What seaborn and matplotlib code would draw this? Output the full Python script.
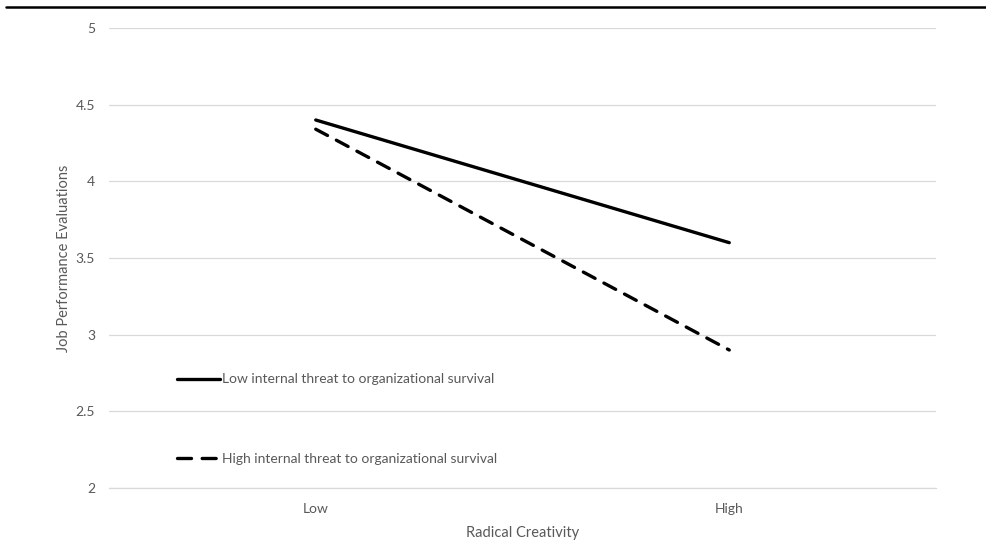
import matplotlib
matplotlib.use("Agg")
import matplotlib.pyplot as plt
import seaborn as sns
import pandas as pd
from matplotlib.lines import Line2D

categories = ["Low", "High"]
series_names = ["Low internal threat to organizational survival",
                "High internal threat to organizational survival"]
low_threat = [4.40, 3.60]
high_threat = [4.34, 2.90]
y_ticks = [2, 2.5, 3, 3.5, 4, 4.5, 5]
y_tick_labels = ["2", "2.5", "3", "3.5", "4", "4.5", "5"]

df = pd.DataFrame({
    "Radical Creativity": categories * 2,
    "value": low_threat + high_threat,
    "series": [series_names[0]] * 2 + [series_names[1]] * 2,
})

sns.set_style("white")
plt.rcParams["font.family"] = ["Lato", "DejaVu Sans"]
TXT = "#595959"

W, H = 986, 555
fig = plt.figure(figsize=(W / 100, H / 100), dpi=100)
ax = fig.add_axes([109 / W, 1 - 488 / H, (936 - 109) / W, (488 - 28) / H])

sns.lineplot(data=df, x="Radical Creativity", y="value", hue="series", style="series",
             palette=["black", "black"], dashes={series_names[0]: "", series_names[1]: (4, 3)},
             linewidth=2.4, sort=False, ax=ax, legend=False)
for ln in ax.get_lines():
    ln.set_dash_capstyle("round")
    ln.set_solid_capstyle("round")

ax.set_xlim(-0.5, 1.5)
ax.set_ylim(2, 5)
ax.set_yticks(y_ticks)
ax.set_yticklabels(y_tick_labels)
ax.yaxis.grid(True, color="#d9d9d9", linewidth=0.9)
ax.xaxis.grid(False)
for s in ["top", "right", "left"]:
    ax.spines[s].set_visible(False)
ax.spines["bottom"].set_color("#d9d9d9")
ax.spines["bottom"].set_linewidth(0.9)
ax.tick_params(axis="both", length=0, labelsize=10, labelcolor=TXT)
ax.tick_params(axis="y", pad=10)
ax.tick_params(axis="x", pad=11)
ax.set_xlabel("Radical Creativity", fontsize=10.5, color=TXT, labelpad=8)
ax.set_ylabel("Job Performance Evaluations", fontsize=10.5, color=TXT, labelpad=3)

handles = [Line2D([], [], color="black", lw=2.4, solid_capstyle="round"),
           Line2D([], [], color="black", lw=2.4, ls=(0, (4.2, 3.2)), dash_capstyle="round")]
leg = ax.legend(handles, series_names, loc="upper left", bbox_to_anchor=(0.082, 0.249),
                frameon=False, fontsize=10, handlelength=3.1, handletextpad=0.15,
                labelspacing=4.85, borderpad=0, borderaxespad=0)
for t in leg.get_texts():
    t.set_color(TXT)

fig.add_artist(Line2D([6 / W, 1.0], [1 - 7 / H, 1 - 7 / H], color="black", lw=1.8,
                      transform=fig.transFigure))

fig.savefig("out.png", dpi=100, facecolor="white")
